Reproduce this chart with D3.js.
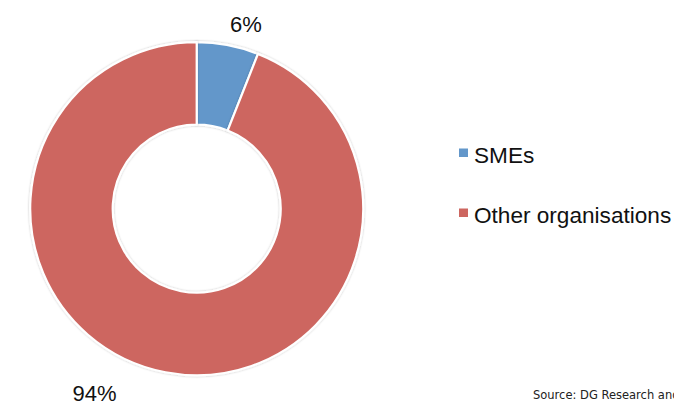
<!DOCTYPE html>
<html><head><meta charset="utf-8">
<script src="https://cdn.jsdelivr.net/npm/d3@7"></script>
<style>html,body{margin:0;padding:0;background:#fff;overflow:hidden;}svg{display:block;}</style>
</head><body>
<script>
const categories = ["SMEs", "Other organisations"];
const values = [6, 94];
const labels = ["6%", "94%"];
const colors = ["#6397CA", "#CD6660"];

const W = 674, H = 401;
const svg = d3.select("body").append("svg").attr("width", W).attr("height", H);
const cx = 196.7, cy = 208.7, rO = 166.5, rI = 84;

const defs = svg.append("defs");
const f = defs.append("filter").attr("id","sh").attr("x","-10%").attr("y","-10%").attr("width","120%").attr("height","120%");
f.append("feDropShadow").attr("dx",0).attr("dy",0).attr("stdDeviation",1.2).attr("flood-color","#000").attr("flood-opacity",0.25);

const pie = d3.pie().sort(null).value(d => d)(values);
const arc = d3.arc().innerRadius(rI).outerRadius(rO);
const g = svg.append("g").attr("transform", `translate(${cx},${cy})`);
g.selectAll("path").data(pie).join("path")
  .attr("d", arc).attr("fill", (d,i) => colors[i])
  .attr("stroke", "#fff").attr("stroke-width", 2.2).attr("stroke-linejoin","round")
  .attr("filter","url(#sh)");

// labels
const labelPos = [[246, 31.5], [94.5, 400.5]];
svg.selectAll("text.lbl").data(labels).join("text").attr("class","lbl")
  .attr("x", (d,i)=>labelPos[i][0]).attr("y",(d,i)=>labelPos[i][1])
  .attr("text-anchor","middle").attr("font-family","Liberation Sans, Arial, sans-serif")
  .attr("font-size",22).attr("fill","#111").text(d=>d);

// legend
const lg = svg.append("g");
categories.forEach((c,i) => {
  const y = 162.5 + i*60;
  lg.append("rect").attr("x",459).attr("y",y-14).attr("width",9).attr("height",8.5).attr("fill",colors[i]);
  lg.append("text").attr("x",474).attr("y",y).attr("font-family","Liberation Sans, Arial, sans-serif")
    .attr("font-size",22.6).attr("fill","#111").text(c);
});

svg.append("text").attr("x",533).attr("y",399).attr("font-family","DejaVu Sans, sans-serif")
  .attr("font-size",11.5).attr("fill","#222").text("Source: DG Research and Innovation");
</script>
</body></html>
